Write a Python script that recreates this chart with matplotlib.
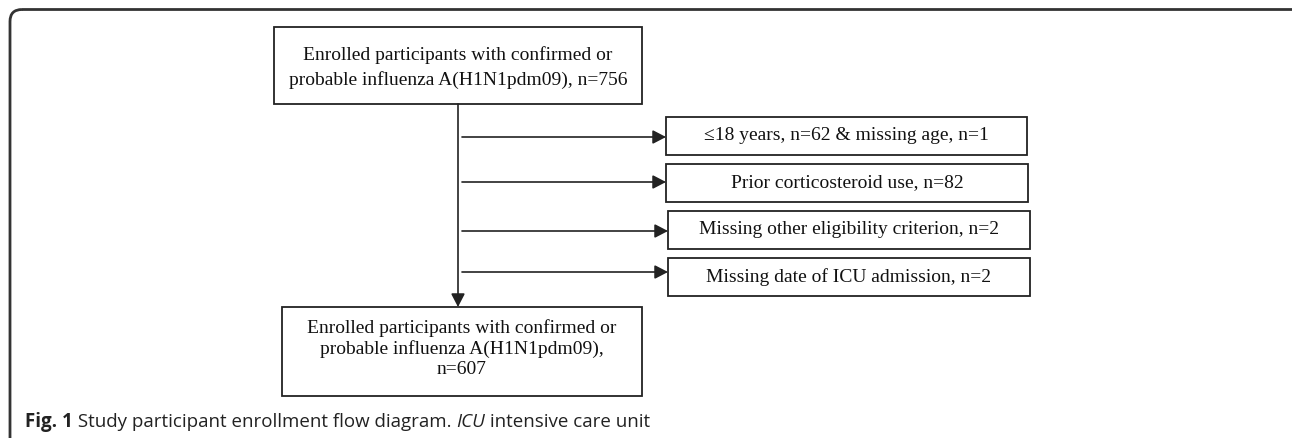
import matplotlib
matplotlib.use("Agg")
import matplotlib.pyplot as plt
from matplotlib.patches import Rectangle, FancyBboxPatch, FancyArrowPatch

# ---- data ----
top_label = ["Enrolled participants with confirmed or",
             "probable influenza A(H1N1pdm09), n=756"]
exclusion_labels = ["\u226418 years, n=62 & missing age, n=1",
                    "Prior corticosteroid use, n=82",
                    "Missing other eligibility criterion, n=2",
                    "Missing date of ICU admission, n=2"]
bottom_label = ["Enrolled participants with confirmed or",
                "probable influenza A(H1N1pdm09),",
                "n=607"]
caption_parts = [("Fig. 1", "bold", "normal"),
                 (" Study participant enrollment flow diagram. ", "normal", "normal"),
                 ("ICU", "normal", "italic"),
                 (" intensive care unit", "normal", "normal")]

# ---- layout (pixels) ----
W, H = 1292, 438
top_box = (274, 27, 642, 104)
bottom_box = (282, 307, 642, 396)
excl_boxes = [(666, 117, 1027, 155), (666, 164, 1028, 202),
              (668, 211, 1030, 249), (668, 258, 1030, 296)]
arrow_y = [137, 182, 231, 272]
trunk_x = 458

fig = plt.figure(figsize=(W / 100, H / 100), dpi=100)
ax = fig.add_axes([0, 0, 1, 1])
ax.set_xlim(0, W)
ax.set_ylim(H, 0)
ax.axis("off")

edge = "#222222"
serif = ["Liberation Serif", "DejaVu Serif"]
fs = 14

# outer rounded frame
frame = FancyBboxPatch((10, 9.5), W + 30, H + 40,
                       boxstyle="round,pad=0,rounding_size=12",
                       fill=False, lw=2.0, ec="#333333", clip_on=True)
ax.add_patch(frame)

def box(b, lw=1.3):
    x0, y0, x1, y1 = b
    ax.add_patch(Rectangle((x0, y0), x1 - x0, y1 - y0, fill=False, ec=edge, lw=lw))

box(top_box)
cx = (top_box[0] + top_box[2]) / 2
for i, t in enumerate(top_label):
    ax.text(cx, 55 + 25 * i, t, ha="center", va="center",
            fontsize=fs, family=serif, color="#111111")

box(bottom_box)
cx = (bottom_box[0] + bottom_box[2]) / 2
for i, t in enumerate(bottom_label):
    ax.text(cx, 328 + 21 * i, t, ha="center", va="center",
            fontsize=fs, family=serif, color="#111111")

arrow_style = "-|>,head_length=5,head_width=2.6"
for b, t, ay in zip(excl_boxes, exclusion_labels, arrow_y):
    box(b)
    ax.text((b[0] + b[2]) / 2, (b[1] + b[3]) / 2, t, ha="center", va="center",
            fontsize=fs, family=serif, color="#111111")
    ax.add_patch(FancyArrowPatch((trunk_x + 4, ay), (b[0], ay),
                                 arrowstyle=arrow_style,
                                 mutation_scale=1.6, lw=1.2, color=edge,
                                 shrinkA=0, shrinkB=0))

# trunk
ax.add_patch(FancyArrowPatch((trunk_x, top_box[3]), (trunk_x, bottom_box[1]),
                             arrowstyle=arrow_style,
                             mutation_scale=1.6, lw=1.2, color=edge,
                             shrinkA=0, shrinkB=0))

# caption
x = 25
renderer = fig.canvas.get_renderer()
for txt, wt, st in caption_parts:
    t = ax.text(x, 427, txt, ha="left", va="baseline", fontsize=13.5,
                fontweight=wt, fontstyle=st, family=["Open Sans", "DejaVu Sans"],
                color="#222222")
    bb = t.get_window_extent(renderer=renderer)
    x += bb.width

fig.savefig("out.png", dpi=100)
